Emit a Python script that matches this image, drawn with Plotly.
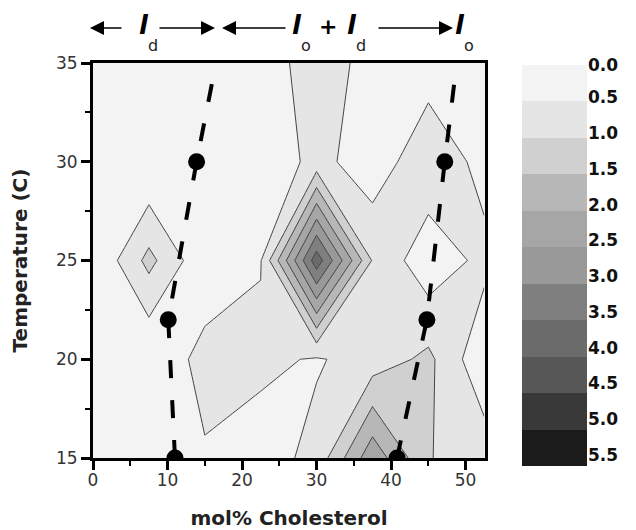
import plotly.graph_objects as go

# ---------------- data ----------------
mol_pct = [0, 7.5, 15, 22.5, 30, 37.5, 45, 52.5]
temperature = [15, 20, 25, 30, 35]
z_15 = [0.0, 0.05, 0.44, 0.25, 0.66, 2.35, 1.02, 0.79]
z_20 = [0.0, 0.02, 0.70, 0.62, 0.45, 0.72, 1.12, 0.10]
z_25 = [0.0, 1.15, 0.10, 0.47, 3.80, 0.96, 0.15, 0.65]
z_30 = [0.0, 0.0, 0.05, 0.04, 0.69, 0.17, 0.90, 0.32]
z_35 = [0.0, 0.0, 0.0, 0.02, 0.95, 0.20, 0.23, 0.10]

# phase boundary points (ld / lo+ld and lo+ld / lo)
bound_temp = [15, 22, 30]
ld_bound = [11.0, 10.1, 13.9]
lo_bound = [40.8, 44.8, 47.2]
# dashed guide lines (extend to top of plot)
guide_temp = [15, 22, 30, 35]
ld_guide = [11.0, 10.1, 13.9, 16.5]
lo_guide = [40.8, 44.8, 47.2, 48.8]

levels = [0.0, 0.5, 1.0, 1.5, 2.0, 2.5, 3.0, 3.5, 4.0, 4.5, 5.0, 5.5]
level_labels = ["0.0", "0.5", "1.0", "1.5", "2.0", "2.5", "3.0", "3.5", "4.0", "4.5", "5.0", "5.5"]
band_colors = ["#f3f3f3", "#e5e5e5", "#d0d0d0", "#b7b7b7", "#a6a6a6", "#999999",
               "#7f7f7f", "#6b6b6b", "#575757", "#393939", "#1b1b1b"]

# page body has an 8px margin: size figure so it ends at the window edge
OFF = 8
W, H = 636 - OFF, 530 - OFF
def px(v): return (v - OFF) / W
def py(v): return 1 - (v - OFF) / H

cscale = [[k / 10, c] for k, c in enumerate(band_colors)]
FONT = "DejaVu Sans"

fig = go.Figure()
fig.add_trace(go.Contour(
    x=mol_pct, y=temperature, z=[z_15, z_20, z_25, z_30, z_35],
    autocontour=False,
    contours=dict(start=0.5, end=5.0, size=0.5, coloring="fill", showlines=True),
    line=dict(color="#454545", width=1, smoothing=0),
    colorscale=cscale, showscale=False, hoverinfo="skip",
))

for xs in (ld_guide, lo_guide):
    fig.add_trace(go.Scatter(x=xs, y=guide_temp, mode="lines",
                             line=dict(color="black", width=4, dash="18px,22px"),
                             showlegend=False, hoverinfo="skip"))
for xs in (ld_bound, lo_bound):
    fig.add_trace(go.Scatter(x=xs, y=bound_temp, mode="markers",
                             marker=dict(color="black", size=17),
                             showlegend=False, cliponaxis=True))

# legend bar (drawn as heatmap on its own axes, 0.0 at top)
band_mid = [(levels[i] + levels[i + 1]) / 2 for i in range(len(band_colors))]
fig.add_trace(go.Heatmap(z=[[k] for k in range(len(band_colors))], x=[0], y=band_mid,
                         zmin=0, zmax=10, colorscale=cscale, showscale=False,
                         xaxis="x2", yaxis="y2", hoverinfo="skip"))

axis_common = dict(showline=True, linewidth=3, linecolor="black", mirror=True,
                   ticks="outside", ticklen=9, tickwidth=2.5, tickcolor="black",
                   showgrid=False, zeroline=False,
                   tickfont=dict(family=FONT, size=17, color="#333333"))
fig.update_layout(
    width=W, height=H, margin=dict(l=0, r=0, t=0, b=0),
    paper_bgcolor="white", plot_bgcolor="#f3f3f3",
    xaxis=dict(domain=[px(93), px(485)], range=[0, 52.6], tickvals=[0, 10, 20, 30, 40, 50],
               minor=dict(dtick=5, ticklen=5, tickwidth=2, tickcolor="black", ticks="outside"),
               ticklabelstandoff=-4,
               title=dict(text="<b>mol% Cholesterol</b>", font=dict(family=FONT, size=20, color="#222"),
                          standoff=25),
               automargin=False, **axis_common),
    yaxis=dict(domain=[py(458), py(63)], range=[15, 35], tickvals=[15, 20, 25, 30, 35],
               minor=dict(dtick=2.5, ticklen=5, tickwidth=2, tickcolor="black", ticks="outside"),
               title=dict(text="<b>Temperature (C)</b>", font=dict(family=FONT, size=20, color="#222"),
                          standoff=23),
               automargin=False, **axis_common),
    xaxis2=dict(domain=[px(522), px(587)], range=[-0.5, 0.5], visible=False, anchor="y2"),
    yaxis2=dict(domain=[py(466), py(65)], range=[5.5, 0], anchor="x2", side="right",
                tickvals=[max(0.0, 0.4904 * i - 0.045) for i in range(len(level_labels))],
                ticktext=level_labels, showline=False, ticks="", showgrid=False, zeroline=False,
                tickfont=dict(family=FONT, size=17, color="#111", weight="bold"),
                automargin=False),
)

# header: phase region labels with arrows
arrow_y = py(28)
arrows = [(90, 123), (215, 158), (222, 287), (453, 377)]  # (head px, tail px)
for head, tail in arrows:
    fig.add_annotation(x=px(head), y=arrow_y, xref="paper", yref="paper",
                       ax=tail - head, ay=0, axref="pixel", ayref="pixel",
                       showarrow=True, arrowhead=2, arrowsize=2.0, arrowwidth=1.4,
                       arrowcolor="black", standoff=0, text="")
l_pos = [(137, "d"), (297, "o"), (352, "d"), (467, "o")]
for xl, sub in l_pos:
    fig.add_annotation(x=px(xl), y=py(8), xref="paper", yref="paper", showarrow=False,
                       text="<b><i>l</i></b>", font=dict(family=FONT, size=26, color="black"))
    fig.add_annotation(x=px(xl + 9), y=py(34), xref="paper", yref="paper", showarrow=False,
                       text=sub, font=dict(family=FONT, size=16, color="#222"))
fig.add_annotation(x=px(328), y=py(12), xref="paper", yref="paper", showarrow=False,
                   text="<b>+</b>", font=dict(family=FONT, size=22, color="black"))

fig.write_html("out.html")
